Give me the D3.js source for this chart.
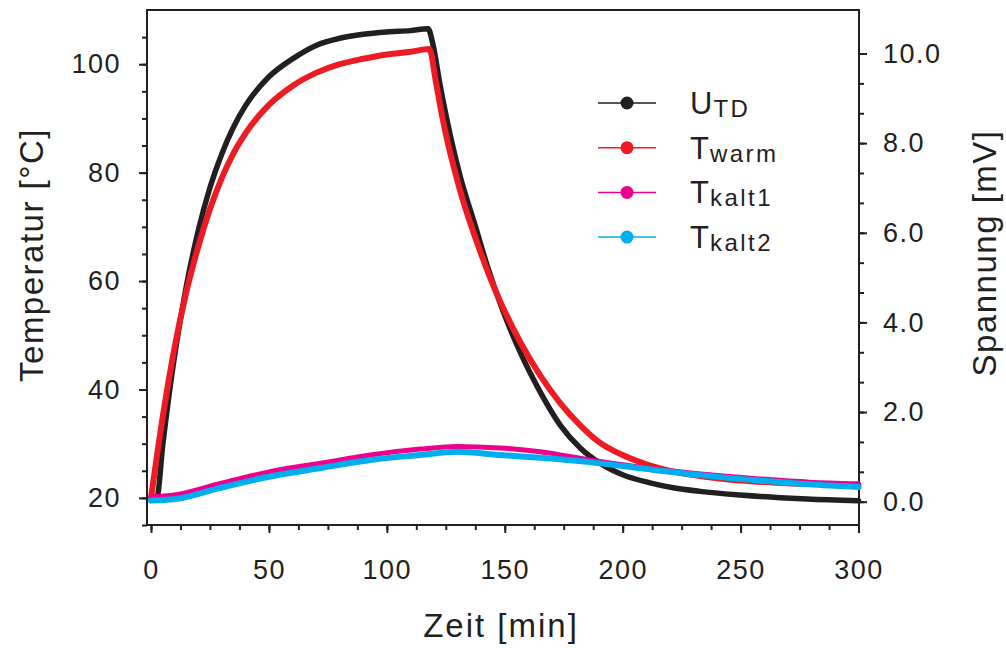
<!DOCTYPE html>
<meta charset="utf-8">
<style>
  body { margin: 0; background: #fff; }
  svg { font-family: "Liberation Sans", Arial, sans-serif; }
  .tick text { fill: #231f20; }
</style>
<svg width="1006" height="648"></svg>
<script src="https://cdnjs.cloudflare.com/ajax/libs/d3/7.8.5/d3.min.js"></script>
<script>

// U_TD thermovoltage (right axis, mV)
var utdTime = [0, 2.5, 5, 10, 15, 20, 25, 30, 35, 40, 50, 60, 70, 80, 90, 100, 110, 117.5, 119.6, 122.6, 125.5, 131, 137.4, 142.9, 148, 156.5, 165, 173.5, 182, 190.4, 200, 211.6, 221.4, 232.8, 249.8, 266.8, 278.2, 300];
var utdMv = [0.08, 0.10, 1.27, 3.26, 4.81, 6.04, 7.01, 7.76, 8.36, 8.83, 9.48, 9.88, 10.18, 10.34, 10.43, 10.48, 10.51, 10.55, 10.19, 9.29, 8.52, 7.28, 6.17, 5.21, 4.43, 3.34, 2.45, 1.71, 1.20, 0.86, 0.60, 0.42, 0.31, 0.23, 0.15, 0.09, 0.06, 0.02];

// T_warm (left axis, °C)
var warmTime = [0, 5, 10, 15, 20, 25, 30, 35, 40, 50, 60, 70, 80, 90, 100, 110, 118, 120.9, 123.5, 126, 129, 132, 135.3, 139, 143, 148, 156.5, 165, 173.5, 182, 190, 200, 210, 221, 235, 250, 265, 280, 300];
var warmTemp = [20.0, 35.0, 47.8, 58.0, 66.3, 73.3, 79.0, 83.6, 87.2, 92.5, 96.0, 98.4, 100.0, 101.0, 101.8, 102.3, 102.8, 96.5, 90.3, 85.2, 80.0, 75.3, 70.8, 66.2, 61.5, 56.3, 48.8, 42.6, 37.5, 33.4, 30.3, 27.9, 26.2, 24.9, 23.9, 23.2, 22.8, 22.55, 22.35];

// T_kalt1 / T_kalt2 (left axis, °C)
var kaltTime = [0, 12, 29, 50, 72, 93, 114, 130, 148, 165, 186, 207, 233, 258, 279, 300];
var kalt1Temp = [20.2, 20.7, 22.6, 24.8, 26.4, 27.9, 29.0, 29.5, 29.2, 28.5, 27.0, 25.7, 24.4, 23.5, 22.9, 22.6];
var kalt2Temp = [19.5, 19.9, 21.8, 23.9, 25.5, 27.0, 27.9, 28.5, 27.9, 27.4, 26.6, 25.5, 24.2, 23.2, 22.5, 22.0];

var xMajor = [0, 50, 100, 150, 200, 250, 300];
var yLeftMajor = [20, 40, 60, 80, 100];
var yRightMajor = [0, 2, 4, 6, 8, 10];

var legendMain = ["U", "T", "T", "T"];
var legendSub = ["TD", "warm", "kalt1", "kalt2"];
var legendColor = ["#231f20", "#ed1c24", "#ec008c", "#00aeef"];

var ink = "#231f20";

var svg = d3.select("svg");

var x = d3.scaleLinear().domain([-1.7, 300]).range([147, 858.5]);
var yL = d3.scaleLinear().domain([15, 110]).range([525, 10]);
var yR = d3.scaleLinear().domain([-0.52, 10.97]).range([525, 10]);

function styleAxis(g) {
  g.select(".domain").remove();
  g.selectAll(".tick line").attr("stroke", ink).attr("stroke-width", 2);
  g.selectAll(".tick text")
    .style("font-size", "27px")
    .style("letter-spacing", "1.5px");
}

// minor ticks
svg.append("g").attr("transform", "translate(147,0)")
  .call(d3.axisLeft(yL).tickValues(d3.range(15, 110, 5)).tickSize(5).tickFormat(""))
  .call(styleAxis);
svg.append("g").attr("transform", "translate(859,0)")
  .call(d3.axisRight(yR).tickValues(d3.range(0, 16).map(function(i) { return i * 2 / 3; })).tickSize(5).tickFormat(""))
  .call(styleAxis);
svg.append("g").attr("transform", "translate(0,525)")
  .call(d3.axisBottom(x).tickValues(d3.range(0, 301, 12.5)).tickSize(5).tickFormat(""))
  .call(styleAxis);

// major ticks + labels
svg.append("g").attr("transform", "translate(147,0)")
  .call(d3.axisLeft(yL).tickValues(yLeftMajor).tickSize(8).tickPadding(18).tickFormat(d3.format("d")))
  .call(styleAxis);
svg.append("g").attr("transform", "translate(859,0)")
  .call(d3.axisRight(yR).tickValues(yRightMajor).tickSize(8).tickPadding(16).tickFormat(d3.format(".1f")))
  .call(styleAxis);
svg.append("g").attr("transform", "translate(0,525)")
  .call(d3.axisBottom(x).tickValues(xMajor).tickSize(8).tickPadding(27).tickFormat(d3.format("d")))
  .call(styleAxis);

// frame
svg.append("rect")
  .attr("x", 147).attr("y", 10)
  .attr("width", 712).attr("height", 515)
  .attr("fill", "none").attr("stroke", ink).attr("stroke-width", 2);

// curves
var lineR = d3.line()
  .x(function(d) { return x(d[0]); })
  .y(function(d) { return yR(d[1]); })
  .curve(d3.curveMonotoneX);
var lineL = d3.line()
  .x(function(d) { return x(d[0]); })
  .y(function(d) { return yL(d[1]); })
  .curve(d3.curveMonotoneX);

function draw(path, gen, color, w) {
  svg.append("path")
    .datum(path)
    .attr("d", gen)
    .attr("fill", "none")
    .attr("stroke", color)
    .attr("stroke-width", w)
    .attr("stroke-linejoin", "round")
    .attr("stroke-linecap", "round");
}

draw(d3.zip(utdTime, utdMv), lineR, legendColor[0], 5.5);
draw(d3.zip(warmTime, warmTemp), lineL, legendColor[1], 6);
draw(d3.zip(kaltTime, kalt1Temp), lineL, legendColor[2], 5);
draw(d3.zip(kaltTime, kalt2Temp), lineL, legendColor[3], 6);

// axis titles
svg.append("text")
  .attr("x", 501).attr("y", 637)
  .attr("text-anchor", "middle")
  .attr("fill", ink)
  .style("font-size", "33px").style("letter-spacing", "2px")
  .text("Zeit [min]");

svg.append("text")
  .attr("transform", "translate(43,255) rotate(-90)")
  .attr("text-anchor", "middle")
  .attr("fill", ink)
  .style("font-size", "33px").style("letter-spacing", "1.5px")
  .text("Temperatur [°C]");

svg.append("text")
  .attr("transform", "translate(996,253) rotate(-90)")
  .attr("text-anchor", "middle")
  .attr("fill", ink)
  .style("font-size", "33px").style("letter-spacing", "1.5px")
  .text("Spannung [mV]");

// legend
var leg = svg.append("g").selectAll("g")
  .data(legendSub)
  .enter().append("g")
  .attr("transform", function(d, i) { return "translate(0," + (103 + i * 44.7) + ")"; });

leg.append("line")
  .attr("x1", 598).attr("x2", 656)
  .attr("stroke", function(d, i) { return legendColor[i]; })
  .attr("stroke-width", 1.5);
leg.append("circle")
  .attr("cx", 627).attr("r", 6.5)
  .attr("fill", function(d, i) { return legendColor[i]; });

var lt = leg.append("text")
  .attr("x", 690).attr("y", 11)
  .attr("fill", ink);
lt.append("tspan")
  .style("font-size", "31px").style("letter-spacing", "1px")
  .text(function(d, i) { return legendMain[i]; });
lt.append("tspan")
  .attr("dy", 3)
  .style("font-size", "24px").style("letter-spacing", "2.5px")
  .text(function(d) { return d; });

</script>
